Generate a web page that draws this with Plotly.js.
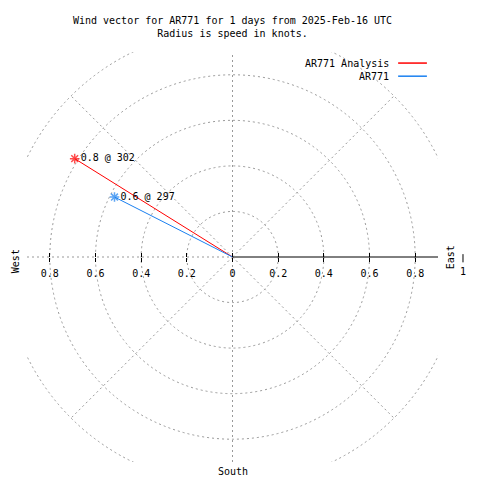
<!DOCTYPE html>
<html>
<head>
<meta charset="utf-8">
<script src="https://cdn.plot.ly/plotly-3.0.1.min.js"></script>
<style>html,body{margin:0;padding:0;background:#fff;}#chart{width:480px;height:480px;}</style>
</head>
<body>
<div id="chart"></div>
<script>
// ---- data ----
const seriesNames = ['AR771 Analysis', 'AR771'];
const speeds = [0.815, 0.58];          // knots (radius)
const directions = [302, 297];         // degrees, compass bearing
const pointLabels = ['0.8 @ 302', '0.6 @ 297'];
const seriesColors = ['#ff0000', '#1a80f0'];
const ringRadii = [0.2, 0.4, 0.6, 0.8, 1.0];
const tickValues = [-0.8, -0.6, -0.4, -0.2, 0, 0.2, 0.4, 0.6, 0.8];
const tickLabels = ['0.8', '0.6', '0.4', '0.2', '0', '0.2', '0.4', '0.6', '0.8'];
const titleLines = ['Wind vector for AR771 for 1 days from 2025-Feb-16 UTC', 'Radius is speed in knots.'];

const FONT = 'DejaVu Sans Mono, Liberation Mono, monospace';
const GRID = '#999999';
const GRIDDASH = '2px,3px';
const LIM = 0.9;

const traces = seriesNames.map((name, i) => {
  const th = directions[i] * Math.PI / 180;
  const px = speeds[i] * Math.sin(th);
  const py = speeds[i] * Math.cos(th);
  return {
    type: 'scatter',
    name: name,
    x: [0, px],
    y: [0, py],
    mode: 'lines+markers+text',
    line: {color: seriesColors[i], width: 1},
    marker: {symbol: 'asterisk-open', size: [0, 8], color: seriesColors[i], line: {color: seriesColors[i], width: 1.5}},
    text: ['', pointLabels[i]],
    textposition: 'middle right',
    textfont: {family: FONT, size: 10, color: '#000'},
    cliponaxis: false,
    hoverinfo: 'skip',
    showlegend: false
  };
});

const shapes = [];
ringRadii.forEach(r => {
  shapes.push({type: 'circle', xref: 'x', yref: 'y', x0: -r, x1: r, y0: -r, y1: r,
    line: {color: GRID, width: 1, dash: GRIDDASH}, layer: 'below'});
});
[45, 135, 225, 315].forEach(a => {
  const t = a * Math.PI / 180;
  shapes.push({type: 'line', xref: 'x', yref: 'y', x0: 0, y0: 0, x1: Math.cos(t), y1: Math.sin(t),
    line: {color: GRID, width: 1, dash: GRIDDASH}, layer: 'below'});
});
shapes.push({type: 'line', xref: 'x', yref: 'y', x0: 0, x1: 0, y0: -LIM, y1: LIM, line: {color: GRID, width: 1, dash: GRIDDASH}, layer: 'below'});
shapes.push({type: 'line', xref: 'x', yref: 'y', x0: -LIM, x1: 0, y0: 0, y1: 0, line: {color: GRID, width: 1, dash: GRIDDASH}, layer: 'below'});
shapes.push({type: 'line', xref: 'x', yref: 'y', x0: 0, x1: LIM, y0: 0, y1: 0, line: {color: '#000', width: 1}, layer: 'below'});
// tick at 1 outside the plot
shapes.push({type: 'line', xref: 'paper', yref: 'paper', x0: 1.0608, x1: 1.0608, y0: 0.487, y1: 0.507, line: {color: '#000', width: 1}});
// legend samples
shapes.push({type: 'line', xref: 'paper', yref: 'paper', x0: 0.903, x1: 0.973, y0: 0.973, y1: 0.973, line: {color: seriesColors[0], width: 1.5}});
shapes.push({type: 'line', xref: 'paper', yref: 'paper', x0: 0.903, x1: 0.973, y0: 0.941, y1: 0.941, line: {color: seriesColors[1], width: 1.5}});

const ann = (o) => Object.assign({showarrow: false, font: {family: FONT, size: 10, color: '#000'}}, o);
const annotations = [
  ann({text: 'West', xref: 'paper', yref: 'paper', x: -0.029, y: 0.49, textangle: -90, xanchor: 'center', yanchor: 'middle'}),
  ann({text: 'East', xref: 'paper', yref: 'paper', x: 1.03, y: 0.5, textangle: -90, xanchor: 'center', yanchor: 'middle'}),
  ann({text: '1', xref: 'paper', yref: 'paper', x: 1.0608, y: 0.465, xanchor: 'center', yanchor: 'middle'}),
  ann({text: 'South', xref: 'paper', yref: 'paper', x: 0.5, y: 0, yshift: -2, xanchor: 'center', yanchor: 'top'}),
  ann({text: seriesNames[0], xref: 'paper', yref: 'paper', x: 0.886, y: 0.973, xanchor: 'right', yanchor: 'middle'}),
  ann({text: seriesNames[1], xref: 'paper', yref: 'paper', x: 0.886, y: 0.941, xanchor: 'right', yanchor: 'middle'})
];

const layout = {
  width: 480, height: 480,
  margin: {l: 27, r: 42, t: 52, b: 18},
  paper_bgcolor: '#fff', plot_bgcolor: '#fff',
  showlegend: false,
  font: {family: FONT, size: 10, color: '#000'},
  title: {text: titleLines.join('<br>'), x: 0.5, xref: 'paper', xanchor: 'center', y: 0.95, yref: 'container', yanchor: 'top',
    font: {family: FONT, size: 10, color: '#000'}},
  xaxis: {range: [-LIM, LIM], anchor: 'free', position: 0.5, showgrid: false, zeroline: false, showline: false,
    ticks: 'outside', ticklen: 4, tickwidth: 1, tickcolor: '#000', tickmode: 'array', tickvals: tickValues, ticktext: tickLabels,
    tickfont: {family: FONT, size: 10, color: '#000'}, ticklabelstandoff: 3, fixedrange: true},
  xaxis2: {range: [-LIM, LIM], overlaying: 'x', anchor: 'free', position: 0.5, side: 'top', showgrid: false, zeroline: false, showline: false,
    ticks: 'outside', ticklen: 4, tickwidth: 1, tickcolor: '#000', tickmode: 'array', tickvals: tickValues, showticklabels: false, fixedrange: true},
  yaxis: {range: [-LIM, LIM], visible: false, fixedrange: true},
  shapes: shapes,
  annotations: annotations
};

// dummy trace for xaxis2 so its ticks are drawn
traces.push({type: 'scatter', x: [0], y: [0], xaxis: 'x2', mode: 'markers', marker: {size: 0, opacity: 0}, hoverinfo: 'skip', showlegend: false});

Plotly.newPlot('chart', traces, layout, {staticPlot: true, displayModeBar: false});
</script>
</body>
</html>
